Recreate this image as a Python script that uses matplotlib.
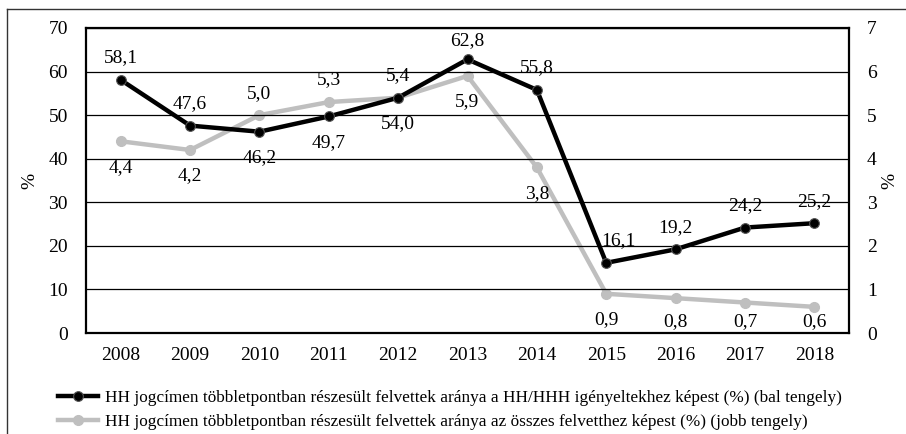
import matplotlib
matplotlib.use("Agg")
import matplotlib.pyplot as plt
from matplotlib.lines import Line2D

years = ["2008", "2009", "2010", "2011", "2012", "2013", "2014", "2015", "2016", "2017", "2018"]
left_values = [58.1, 47.6, 46.2, 49.7, 54.0, 62.8, 55.8, 16.1, 19.2, 24.2, 25.2]
right_values = [4.4, 4.2, 5.0, 5.3, 5.4, 5.9, 3.8, 0.9, 0.8, 0.7, 0.6]
left_label_pos = ["above", "above", "below", "below", "below", "above", "above", "above", "above", "above", "above"]
right_label_pos = ["below", "below", "above", "above", "above", "below", "below", "below", "below", "below", "below"]
left_name = "HH jogcímen többletpontban részesült felvettek aránya a HH/HHH igényeltekhez képest (%) (bal tengely)"
right_name = "HH jogcímen többletpontban részesült felvettek aránya az összes felvetthez képest (%) (jobb tengely)"

plt.rcParams['font.family'] = ['Liberation Serif', 'DejaVu Serif']

BLACK = "#000000"
GRAY = "#BFBFBF"
FS = 14

fig = plt.figure(figsize=(9.06, 4.34), dpi=100)
ax = fig.add_axes([86/906, 1-333/434, (849-86)/906, (333-28)/434])
ax2 = ax.twinx()

x = list(range(len(years)))

ax.set_ylim(0, 70)
ax.set_yticks(range(0, 71, 10))
ax2.set_ylim(0, 7)
ax2.set_yticks(range(0, 8, 1))
ax.set_xlim(-0.5, len(years) - 0.5)
ax.set_xticks(x)
ax.set_xticklabels(years)

ax.grid(axis='y', color='black', linewidth=0.9)
ax.set_axisbelow(True)
for sp in ax.spines.values():
    sp.set_linewidth(1.6)
    sp.set_color('black')
for sp in ax2.spines.values():
    sp.set_visible(False)

ax.tick_params(axis='both', length=0, labelsize=FS)
ax.tick_params(axis='y', pad=13)
ax.tick_params(axis='x', pad=10)
ax2.tick_params(axis='y', length=0, labelsize=FS, pad=13)

PX = 72 / fig.dpi  # points per pixel
AX_TOP = 28
AX_BOT = 333


def place_labels(axis, values, positions, ymax, xshift=None):
    for i, (xi, v, pos) in enumerate(zip(x, values, positions)):
        py = AX_BOT - v / ymax * (AX_BOT - AX_TOP)  # pixel y of point (from top)
        if pos == "above":
            ly = max(py - 22, AX_TOP + 13)
        else:
            ly = min(py + 26, AX_BOT - 11)
        dy = (py - ly) * PX
        dx = 0
        if xshift and i in xshift:
            dx = xshift[i] * PX
        axis.annotate(f"{v:.1f}".replace(".", ","), (xi, v), xytext=(dx, dy),
                      textcoords='offset points', ha='center', va='center', fontsize=FS)


# Gray series on right axis (drawn first so black is on top)
ax2.plot(x, right_values, color=GRAY, linewidth=3.2, marker='o', markersize=7,
         markerfacecolor=GRAY, markeredgecolor=GRAY, zorder=3)
place_labels(ax2, right_values, right_label_pos, 7)

ax.set_zorder(ax2.get_zorder() + 1)
ax.patch.set_visible(False)
ax.plot(x, left_values, color=BLACK, linewidth=3.2, marker='o', markersize=7,
        markerfacecolor=BLACK, markeredgecolor='#555555', markeredgewidth=0.8, zorder=4)
place_labels(ax, left_values, left_label_pos, 70, xshift={7: 12})

fig.text(30/906, 1-181/434, "%", rotation=90, ha='center', va='center', fontsize=FS)
fig.text(890/906, 1-181/434, "%", rotation=90, ha='center', va='center', fontsize=FS)

handles = [
    Line2D([], [], color=BLACK, linewidth=3.2, marker='o', markersize=7,
           markerfacecolor=BLACK, markeredgecolor='#555555', markeredgewidth=0.8),
    Line2D([], [], color=GRAY, linewidth=3.2, marker='o', markersize=7,
           markerfacecolor=GRAY, markeredgecolor=GRAY),
]
fig.legend(handles, [left_name, right_name], loc='center left',
           bbox_to_anchor=(58/906, 1-410/434), frameon=False, fontsize=12.4,
           handlelength=2.3, handletextpad=0.45, labelspacing=0.45, borderaxespad=0,
           borderpad=0)

# outer frame (partially cut)
fig.add_artist(Line2D([7/906, 1.0], [1-9/434, 1-9/434], transform=fig.transFigure,
                      color='#333333', linewidth=1.0))
fig.add_artist(Line2D([7/906, 7/906], [0, 1-9/434], transform=fig.transFigure,
                      color='#333333', linewidth=1.0))

fig.savefig("out.png", dpi=100)
